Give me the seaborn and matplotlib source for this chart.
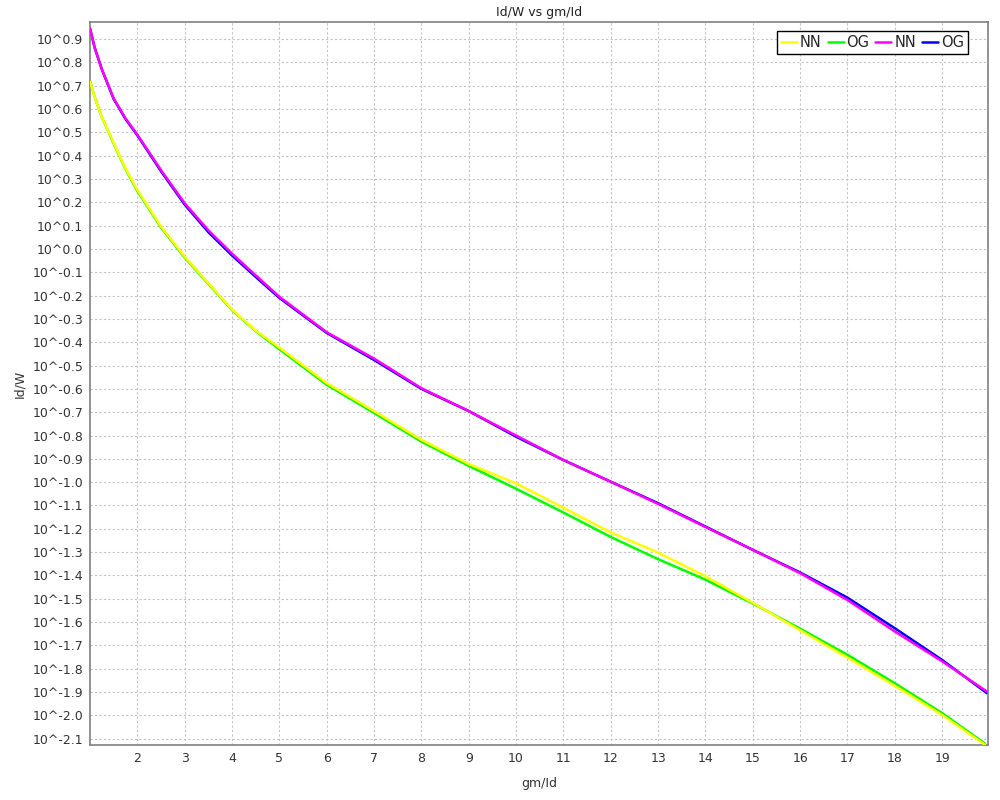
import numpy as np
import pandas as pd
import seaborn as sns
import matplotlib.pyplot as plt
from matplotlib.ticker import FuncFormatter, FixedLocator

# gm/Id sample points
gm_id = [1.0, 1.1, 1.25, 1.5, 1.75, 2, 2.5, 3, 3.5, 4, 4.5, 5, 6, 7, 8, 9, 10,
         11, 12, 13, 14, 15, 16, 17, 18, 19, 19.95]

# log10(Id/W), upper pair of curves
upper_nn = [0.945, 0.862, 0.77, 0.645, 0.56, 0.49, 0.338, 0.196, 0.08, -0.02, -0.113,
            -0.205, -0.357, -0.47, -0.597, -0.695, -0.80, -0.905, -0.998,
            -1.093, -1.192, -1.29, -1.39, -1.505, -1.64, -1.768, -1.898]
upper_og = [0.945, 0.862, 0.77, 0.643, 0.557, 0.487, 0.333, 0.19, 0.072, -0.028, -0.12,
            -0.21, -0.36, -0.476, -0.60, -0.695, -0.805, -0.905, -0.998,
            -1.09, -1.19, -1.29, -1.387, -1.495, -1.626, -1.762, -1.905]

# lower pair of curves
lower_x = [1.0, 1.1, 1.25, 1.5, 1.75, 2, 2.5, 3, 3.5, 4, 4.5, 5, 6, 7, 8, 9, 10,
           11, 12, 13, 14, 15, 16, 17, 18, 19, 19.9]
lower_nn = [0.717, 0.65, 0.565, 0.455, 0.345, 0.253, 0.096, -0.033, -0.147, -0.26,
            -0.35, -0.423, -0.575, -0.695, -0.818, -0.922, -1.005, -1.11,
            -1.215, -1.302, -1.403, -1.517, -1.635, -1.752, -1.873, -1.998, -2.125]
lower_og = [0.72, 0.65, 0.565, 0.452, 0.342, 0.248, 0.092, -0.037, -0.15, -0.262,
            -0.352, -0.43, -0.582, -0.703, -0.826, -0.93, -1.028, -1.13,
            -1.235, -1.33, -1.418, -1.52, -1.628, -1.74, -1.862, -1.99, -2.12]

series = [
    ("NN", lower_x, lower_nn, "#ffff00", 3),
    ("OG", lower_x, lower_og, "#00ff00", 2),
    ("NN", gm_id, upper_nn, "#ff00ff", 3),
    ("OG", gm_id, upper_og, "#0000ff", 2),
]

sns.set_style("white")
plt.rcParams['font.family'] = ['DejaVu Sans']

fig = plt.figure(figsize=(10, 8), dpi=100)
ax = fig.add_axes([0.09, 0.069, 0.898, 0.9035])

for name, xs, ys, col, z in series:
    df = pd.DataFrame({"gm/Id": xs, "Id/W": ys})
    sns.lineplot(data=df, x="gm/Id", y="Id/W", color=col, label=name,
                 linewidth=1.8, estimator=None, sort=False, ax=ax, zorder=z)

ax.set_xlim(1.0, 19.97)
ax.set_ylim(-2.126, 0.973)

ax.xaxis.set_major_locator(FixedLocator(range(2, 20)))
yt = [round(v, 1) for v in np.arange(-2.1, 0.95, 0.1)]
ax.yaxis.set_major_locator(FixedLocator(yt))
ax.yaxis.set_major_formatter(FuncFormatter(lambda v, p: "10^%.1f" % (round(v, 1) + 0.0)))

ax.grid(True, color="#c4c4c4", linestyle=(0, (2, 2)), linewidth=0.8)
for s in ax.spines.values():
    s.set_color("#808080")
    s.set_linewidth(1.2)
ax.tick_params(axis="both", direction="out", length=3, width=0.8, color="#808080",
               labelsize=9, labelcolor="#333333", pad=2)

ax.set_xlabel("gm/Id", fontsize=9, color="#333333", labelpad=9)
ax.set_ylabel("Id/W", fontsize=9, color="#333333", labelpad=4)
ax.set_title("Id/W vs gm/Id", fontsize=9, color="#222222", pad=4)

leg = ax.legend(loc="upper right", bbox_to_anchor=(0.978, 0.988), borderaxespad=0,
                ncol=4, fontsize=10.5, handlelength=1.1, handletextpad=0.2,
                columnspacing=0.4, fancybox=False, framealpha=1, borderpad=0.3)
leg.get_frame().set_edgecolor("black")
leg.get_frame().set_linewidth(1.0)

fig.savefig("out.png", dpi=100)
